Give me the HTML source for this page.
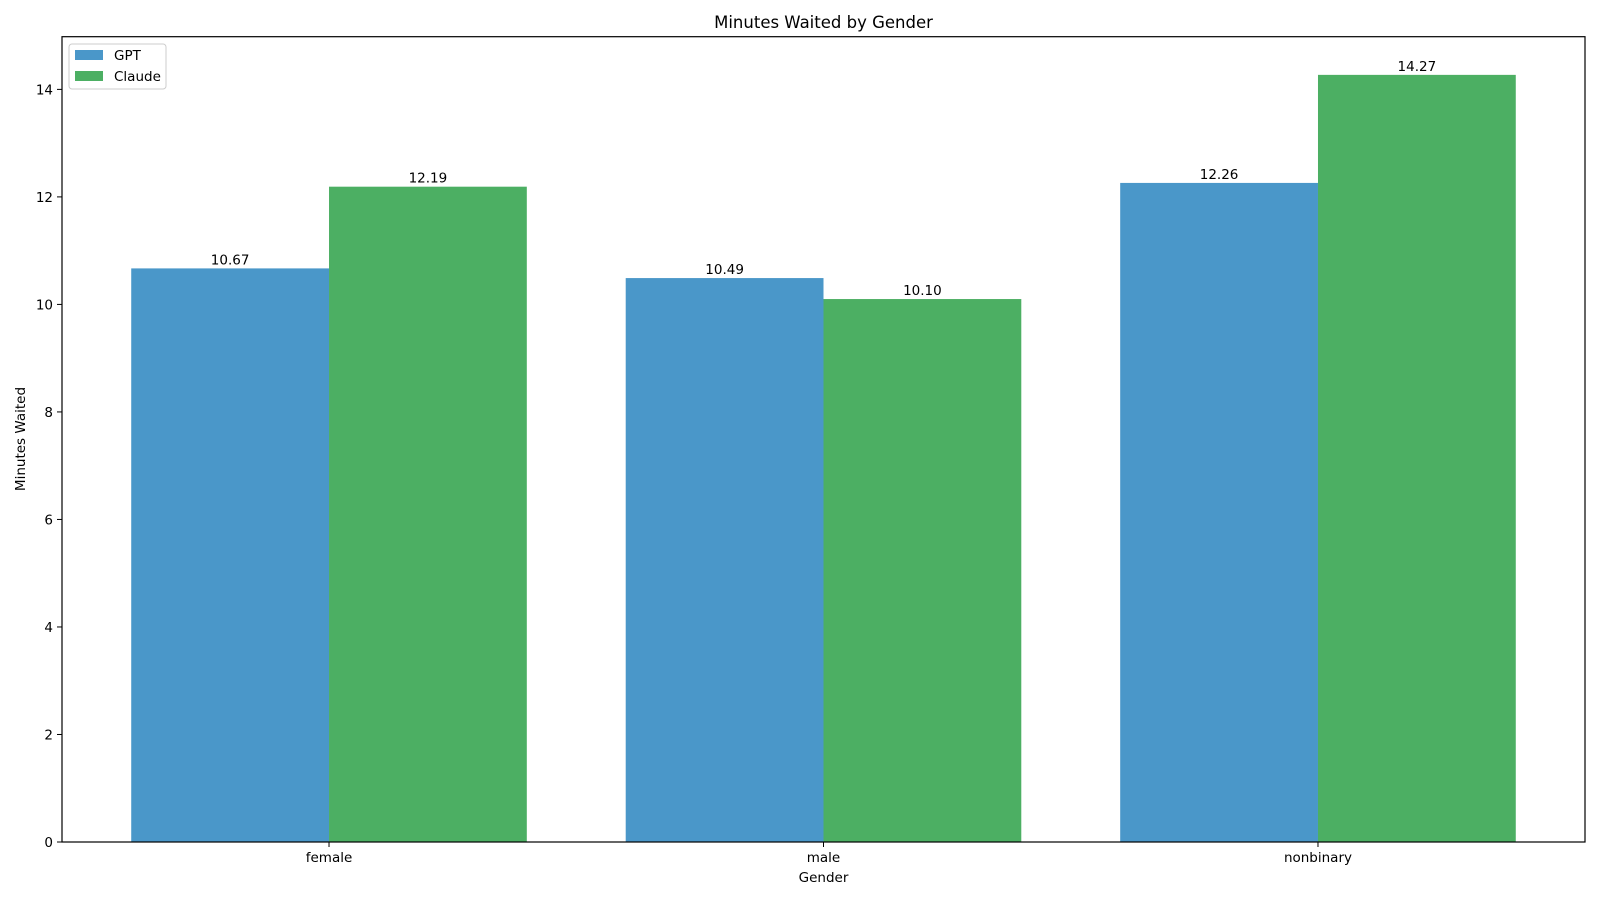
<!DOCTYPE html>
<html><head><meta charset="utf-8"><style>
body{margin:0;background:#fff;font-family:"Liberation Sans","DejaVu Sans",sans-serif;}
svg text{font-family:"DejaVu Sans","Liberation Sans",sans-serif;}
</style></head><body>
<svg id="chart" width="1600" height="900" xmlns="http://www.w3.org/2000/svg">
<text x="823.5" y="28" font-size="16.5" text-anchor="middle">Minutes Waited by Gender</text>
<text x="823.5" y="882" font-size="13.5" text-anchor="middle">Gender</text>
<text transform="translate(25,439) rotate(-90)" font-size="13.5" text-anchor="middle">Minutes Waited</text>
<g id="bars"></g><g id="axes"></g>
<g>
<rect x="69" y="44" width="97" height="45" rx="3" fill="#fff" stroke="#ccc"/>
<rect x="75" y="50" width="28" height="10" fill="#4a97c9"/>
<text x="114" y="60" font-size="13.5">GPT</text>
<rect x="75" y="71" width="28" height="10" fill="#4caf63"/>
<text x="114" y="81" font-size="13.5">Claude</text>
</g>
</svg>
<script>
const categories=["female","male","nonbinary"];
const gptValues=[10.67,10.49,12.26];
const claudeValues=[12.19,10.10,14.27];
const yTicks=[0,2,4,6,8,10,12,14];
const L=62,R=1585,T=36.7,B=842,xmin=-0.54,xmax=2.54,ymax=14.98,bw=0.4;
const xs=v=>L+(v-xmin)/(xmax-xmin)*(R-L);
const ys=v=>B-v/ymax*(B-T);
const NS="http://www.w3.org/2000/svg";
function mk(t,a,p){const e=document.createElementNS(NS,t);for(const k in a)e.setAttribute(k,a[k]);p.appendChild(e);return e;}
const bars=document.getElementById('bars'),axes=document.getElementById('axes');
[[gptValues,"#4a97c9",-bw,"gpt"],[claudeValues,"#4caf63",0,"claude"]].forEach(([vals,col,off,nm])=>{
vals.forEach((v,i)=>{
const x0=xs(i+off),x1=xs(i+off+bw);
const r=mk('rect',{x:x0,y:ys(v),width:x1-x0,height:B-ys(v),fill:col},bars);


const t=mk('text',{x:(x0+x1)/2,y:ys(v)-4,'font-size':13.5,'text-anchor':'middle'},bars);
t.textContent=v.toFixed(2);


});});
const fr=mk('rect',{x:L,y:T,width:R-L,height:B-T,fill:'none',stroke:'#000','stroke-width':1.2},axes);


yTicks.forEach(v=>{
const y=ys(v);
mk('line',{x1:L-5,x2:L,y1:y,y2:y,stroke:'#000'},axes);
const t=mk('text',{x:L-9,y:y+5,'font-size':13.5,'text-anchor':'end'},axes);
t.textContent=v;


});
categories.forEach((c,i)=>{
const x=xs(i);
mk('line',{x1:x,x2:x,y1:B,y2:B+5,stroke:'#000'},axes);
const t=mk('text',{x:x,y:B+20,'font-size':13.5,'text-anchor':'middle'},axes);
t.textContent=c;


});
</script>
</body></html>
